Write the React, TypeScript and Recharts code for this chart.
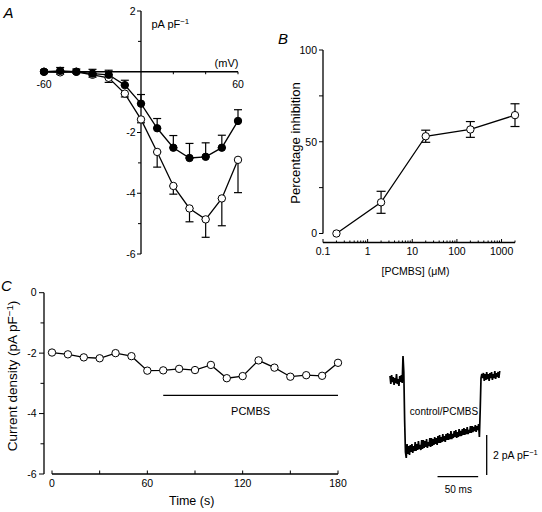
import React from 'react';
import { LineChart, Line, XAxis, YAxis, ErrorBar, ReferenceLine } from 'recharts';

const FONT = '"Liberation Sans", Arial, Helvetica, sans-serif';

// ---- Panel A: current–voltage relation (control open, PCMBS filled)
const voltages = [-60, -50, -40, -30, -20, -10, 0, 10, 20, 30, 40, 50, 60];
const controlIV = [0, -0.02, 0, -0.1, -0.2, -0.72, -1.57, -2.64, -3.76, -4.5, -4.86, -4.17, -2.9];
const controlIVErr = [0.05, 0.06, 0.05, 0.08, 0.15, 0.11, 0.11, 0.5, 0.27, 0.44, 0.59, 0.9, 1.08];
const pcmbsIV = [0, 0.03, 0, -0.06, -0.1, -0.44, -1.05, -1.86, -2.5, -2.84, -2.8, -2.5, -1.62];
const pcmbsIVErr = [0.06, 0.11, 0.09, 0.14, 0.15, 0.16, 0.3, 0.32, 0.4, 0.48, 0.46, 0.41, 0.37];
const ivXTicks = [-60, -40, -20, 20, 40, 60];
const ivXLabels = [-60, 60];
const ivYTicks = [2, 1, -1, -2, -3, -4, -5, -6];
const ivYLabels = [2, -2, -4, -6];

// ---- Panel B: dose–response
const concentrations = [0.2, 2, 20, 200, 2000];
const inhibition = [0, 17, 53, 56.7, 64.5];
const inhibitionErr = [0, 6, 3.3, 4.3, 6.2];
const concTicks = [
  0.1, 0.2, 0.3, 0.4, 0.5, 0.6, 0.7, 0.8, 0.9,
  1, 2, 3, 4, 5, 6, 7, 8, 9,
  10, 20, 30, 40, 50, 60, 70, 80, 90,
  100, 200, 300, 400, 500, 600, 700, 800, 900,
  1000, 2000,
];
const concLabels = [0.1, 1, 10, 100, 1000];
const inhibTicks = [0, 25, 50, 75, 100];
const inhibLabels = [0, 50, 100];

// ---- Panel C: time course
const times = [0, 10, 20, 30, 40, 50, 60, 70, 80, 90, 100, 110, 120, 130, 140, 150, 160, 170, 180];
const density = [-1.98, -2.04, -2.14, -2.17, -2.0, -2.1, -2.58, -2.57, -2.52, -2.56, -2.39, -2.83, -2.76, -2.24, -2.48, -2.78, -2.73, -2.75, -2.32];
const timeTicks = [0, 30, 60, 90, 120, 150, 180];
const timeLabels = [0, 60, 120, 180];
const densityTicks = [0, -1, -2, -3, -4, -5, -6];
const densityLabels = [0, -2, -4, -6];
const pcmbsBar = { start: 70, end: 180, level: -3.4 };

// ---- Inset: example current trace, one sample per ms (pA pF-1)
const traceValues = [
  0.2, -0.2, 0.25, -0.1, 0.15, -0.25, 0.1, -0.15, 0.3, -0.2, 0.05, -0.3, 0.2, -0.1, 0.25, -0.15,
  1.2, 0.4, -2.0, -3.6, -3.9,
  -3.2, -3.7, -3.3, -3.75, -3.25, -3.6, -3.2, -3.65, -3.3, -3.55,
  -3.1, -3.55, -3.2, -3.5, -3.05, -3.45, -3.25, -3.5, -3.0, -3.45,
  -3.0, -3.4, -3.05, -3.35, -2.95, -3.4, -3.1, -3.3, -2.9, -3.35,
  -2.9, -3.3, -2.95, -3.25, -2.85, -3.2, -2.9, -3.25, -2.8, -3.15,
  -2.75, -3.15, -2.85, -3.1, -2.7, -3.05, -2.8, -3.1, -2.7, -3.0,
  -2.65, -3.0, -2.7, -2.95, -2.55, -2.95, -2.7, -2.9, -2.55, -2.85,
  -2.5, -2.9, -2.6, -2.85, -2.45, -2.8, -2.55, -2.8, -2.45, -2.75,
  -2.4, -2.75, -2.45, -2.7, -2.35, -2.7, -2.5, -2.65, -2.3, -2.65,
  -2.3, -2.6, -2.35, -2.55, -2.25, -2.6, -2.3, -2.5, -2.2,
  -2.85, -1.5, 0.1, 0.3,
  0.1, 0.35, -0.05, 0.3, 0.0, 0.4, 0.05, 0.3, -0.05, 0.35, 0.1,
  0.4, 0.0, 0.3, 0.1, 0.45, 0.05, 0.35, 0.15, 0.4, 0.1, 0.45,
];
const timeBar = { start: 58.5, end: 108.5, level: -4.83 }; // 50 ms
const currentBar = { at: 119, low: -4.75, high: -2.75 }; // 2 pA pF-1

// layout of panel A (axes cross at the origin)
const A = { w: 250, h: 270, top: 11, right: 12, bottom: 16, left: 44 };
const A_PW = A.w - A.left - A.right;
const A_PH = A.h - A.top - A.bottom;
const A_X0 = A.left + A_PW / 2;
const A_Y0 = A.top + (A_PH * 2) / 8;

const ivData = voltages.map((v, i) => ({
  v,
  control: controlIV[i],
  controlErr: [controlIVErr[i], 0],
  pcmbs: pcmbsIV[i],
  pcmbsErr: [0, pcmbsIVErr[i]],
}));
const doseData = concentrations.map((c, i) => ({ c, p: inhibition[i], e: inhibitionErr[i] }));
const timeData = times.map((t, i) => ({ t, d: density[i] }));
const traceData = traceValues.map((v, i) => ({ t: i, v }));

const openDot = { r: 3.7, fill: '#fff', stroke: '#000', strokeWidth: 1 };
const filledDot = { r: 3.7, fill: '#000', stroke: '#000', strokeWidth: 1 };

const IvXTick = (props: any) => {
  const { x, payload } = props;
  const v = payload.value;
  return (
    <g>
      <line x1={x} x2={x} y1={A_Y0} y2={A_Y0 + 2.5} stroke="#000" />
      {ivXLabels.includes(v) && (
        <text x={x} y={A_Y0 + 16.5} textAnchor="middle" fontSize={10.5} fontFamily={FONT} fill="#000">
          {v}
        </text>
      )}
    </g>
  );
};

const IvYTick = (props: any) => {
  const { y, payload } = props;
  const v = payload.value;
  const major = ivYLabels.includes(v);
  return (
    <g>
      <line x1={A_X0 - (major ? 4 : 3)} x2={A_X0} y1={y} y2={y} stroke="#000" />
      {major && (
        <text x={A_X0 - 5.5} y={y} dy="0.36em" textAnchor="end" fontSize={10.5} fontFamily={FONT} fill="#000">
          {v}
        </text>
      )}
    </g>
  );
};

const ConcTick = (props: any) => {
  const { x, y, payload } = props;
  const v = payload.value;
  const major = concLabels.includes(v);
  return (
    <g>
      <line x1={x} x2={x} y1={y} y2={y - (major ? 3.5 : 2)} stroke="#000" />
      {major && (
        <text x={x} y={y + 12.5} textAnchor="middle" fontSize={10.5} fontFamily={FONT} fill="#000">
          {v}
        </text>
      )}
    </g>
  );
};

const InhibTick = (props: any) => {
  const { x, y, payload } = props;
  const v = payload.value;
  const major = inhibLabels.includes(v);
  return (
    <g>
      <line x1={x - 4} x2={x} y1={y} y2={y} stroke="#000" />
      {major && (
        <text x={x - 6} y={y} dy="0.36em" textAnchor="end" fontSize={10.5} fontFamily={FONT} fill="#000">
          {v}
        </text>
      )}
    </g>
  );
};

const TimeTick = (props: any) => {
  const { x, y, payload } = props;
  const v = payload.value;
  return (
    <g>
      <line x1={x} x2={x} y1={y} y2={y - 3.5} stroke="#000" />
      {timeLabels.includes(v) && (
        <text x={x} y={y + 13} textAnchor="middle" fontSize={10.5} fontFamily={FONT} fill="#000">
          {v}
        </text>
      )}
    </g>
  );
};

const DensityTick = (props: any) => {
  const { x, y, payload } = props;
  const v = payload.value;
  const major = densityLabels.includes(v);
  return (
    <g>
      <line x1={x - (major ? 5 : 3.5)} x2={x} y1={y} y2={y} stroke="#000" />
      {major && (
        <text x={x - 7.5} y={y} dy="0.36em" textAnchor="end" fontSize={10.5} fontFamily={FONT} fill="#000">
          {v}
        </text>
      )}
    </g>
  );
};

const Sup = ({ children }: { children: React.ReactNode }) => (
  <span style={{ fontSize: '0.72em', verticalAlign: '0.45em', lineHeight: 0 }}>{children}</span>
);

const Txt = ({ x, y, size, children, rotate, italic, anchor = 'center' }: any) => (
  <div
    style={{
      position: 'absolute',
      left: x,
      top: y,
      fontFamily: FONT,
      fontSize: size,
      fontStyle: italic ? 'italic' : 'normal',
      whiteSpace: 'nowrap',
      lineHeight: 1,
      color: '#000',
      transform: `translate(${anchor === 'center' ? '-50%' : '0'}, -50%)${rotate ? ' rotate(-90deg)' : ''}`,
      transformOrigin: anchor === 'center' ? '50% 50%' : '0 50%',
    }}
  >
    {children}
  </div>
);

export default function App() {
  return (
    <div style={{ position: 'absolute', left: 0, top: 0, width: 542, height: 512, background: '#fff', overflow: 'hidden' }}>
      {/* A */}
      <div style={{ position: 'absolute', left: 0, top: 0 }}>
        <LineChart width={A.w} height={A.h} data={ivData} margin={{ top: A.top, right: A.right, bottom: A.bottom - 1, left: A.left - 1 }}>
          <XAxis dataKey="v" type="number" domain={[-60, 60]} ticks={ivXTicks} interval={0} height={1}
            axisLine={false} tickLine={false} tickSize={0} tickMargin={0} tick={IvXTick} />
          <YAxis type="number" domain={[-6, 2]} ticks={ivYTicks} interval={0} width={1}
            axisLine={false} tickLine={false} tickSize={0} tickMargin={0} tick={IvYTick} />
          <ReferenceLine x={0} stroke="#000" strokeWidth={1.3} />
          <ReferenceLine y={0} stroke="#000" strokeWidth={1.3} />
          <Line dataKey="control" stroke="#000" strokeWidth={1.3} dot={openDot} activeDot={false} isAnimationActive={false}>
            <ErrorBar dataKey="controlErr" direction="y" width={4} stroke="#000" strokeWidth={1.2} isAnimationActive={false} />
          </Line>
          <Line dataKey="pcmbs" stroke="#000" strokeWidth={1.3} dot={filledDot} activeDot={false} isAnimationActive={false}>
            <ErrorBar dataKey="pcmbsErr" direction="y" width={4} stroke="#000" strokeWidth={1.2} isAnimationActive={false} />
          </Line>
        </LineChart>
      </div>

      {/* B */}
      <div style={{ position: 'absolute', left: 260, top: 20 }}>
        <LineChart width={270} height={260} data={doseData} margin={{ top: 30, right: 15, bottom: 36.5, left: 62 }}>
          <XAxis dataKey="c" type="number" scale="log" domain={[0.1, 2000]} ticks={concTicks} interval={0} height={1}
            axisLine={{ stroke: '#000', strokeWidth: 1.3 }} tickLine={false} tickSize={0} tickMargin={0} tick={ConcTick} />
          <YAxis type="number" domain={[0, 100]} ticks={inhibTicks} interval={0} width={1} padding={{ top: 0, bottom: 9 }}
            axisLine={false} tickLine={false} tickSize={0} tickMargin={0} tick={InhibTick} />
          <ReferenceLine segment={[{ x: 0.1, y: 0 }, { x: 0.1, y: 100 }]} stroke="#000" strokeWidth={1.3} />
          <Line dataKey="p" stroke="#000" strokeWidth={1.3} dot={openDot} activeDot={false} isAnimationActive={false}>
            <ErrorBar dataKey="e" direction="y" width={4.5} stroke="#000" strokeWidth={1.2} isAnimationActive={false} />
          </Line>
        </LineChart>
      </div>

      {/* C */}
      <div style={{ position: 'absolute', left: 0, top: 270 }}>
        <LineChart width={350} height={240} data={timeData} margin={{ top: 22.7, right: 12, bottom: 35, left: 43 }}>
          <XAxis dataKey="t" type="number" domain={[0, 180]} ticks={timeTicks} interval={0} height={1} padding={{ left: 8, right: 0 }}
            axisLine={false} tickLine={false} tickSize={0} tickMargin={0} tick={TimeTick} />
          <YAxis type="number" domain={[-6, 0]} ticks={densityTicks} interval={0} width={1}
            axisLine={{ stroke: '#000', strokeWidth: 1.3 }} tickLine={false} tickSize={0} tickMargin={0} tick={DensityTick} />
          <ReferenceLine segment={[{ x: 0, y: -6 }, { x: 180, y: -6 }]} stroke="#000" strokeWidth={1.3} />
          <ReferenceLine
            segment={[{ x: pcmbsBar.start, y: pcmbsBar.level }, { x: pcmbsBar.end, y: pcmbsBar.level }]}
            stroke="#000"
            strokeWidth={1.3}
            label={{ value: 'PCMBS', position: 'bottom', offset: 12, fontSize: 11, fontFamily: FONT, fill: '#000' }}
          />
          <Line dataKey="d" stroke="#000" strokeWidth={1.3} dot={openDot} activeDot={false} isAnimationActive={false} />
        </LineChart>
      </div>

      {/* Inset trace */}
      <div style={{ position: 'absolute', left: 380, top: 340 }}>
        <LineChart width={170} height={170} data={traceData} margin={{ top: 10, right: 50.3, bottom: 10, left: 10 }}>
          <XAxis dataKey="t" type="number" domain={[0, 135]} hide />
          <YAxis type="number" domain={[-6, 1.5]} hide />
          <Line dataKey="v" stroke="#000" strokeWidth={1.7} dot={false} activeDot={false} isAnimationActive={false} />
          <ReferenceLine segment={[{ x: timeBar.start, y: timeBar.level }, { x: timeBar.end, y: timeBar.level }]} stroke="#000" strokeWidth={1.3} />
          <ReferenceLine segment={[{ x: currentBar.at, y: currentBar.low }, { x: currentBar.at, y: currentBar.high }]} stroke="#000" strokeWidth={1.3} />
        </LineChart>
      </div>

      {/* text */}
      <Txt x={8.5} y={12} size={15} italic>A</Txt>
      <Txt x={283} y={38} size={15} italic>B</Txt>
      <Txt x={6.5} y={285} size={15} italic>C</Txt>
      <Txt x={151.5} y={24} size={11} anchor="left">pA pF<Sup>−1</Sup></Txt>
      <Txt x={226.5} y={63.3} size={11}>(mV)</Txt>
      <Txt x={295} y={142.5} size={13} rotate>Percentage inhibition</Txt>
      <Txt x={415.5} y={271} size={10.5}>[PCMBS] (μM)</Txt>
      <Txt x={13} y={376} size={13.5} rotate>Current density (pA pF<Sup>−1</Sup>)</Txt>
      <Txt x={191.7} y={501} size={12.5}>Time (s)</Txt>
      <Txt x={444} y={411.7} size={10}>control/PCMBS</Txt>
      <Txt x={493} y={455} size={10.5} anchor="left">2 pA pF<Sup>−1</Sup></Txt>
      <Txt x={458.3} y={490} size={10}>50 ms</Txt>
    </div>
  );
}
